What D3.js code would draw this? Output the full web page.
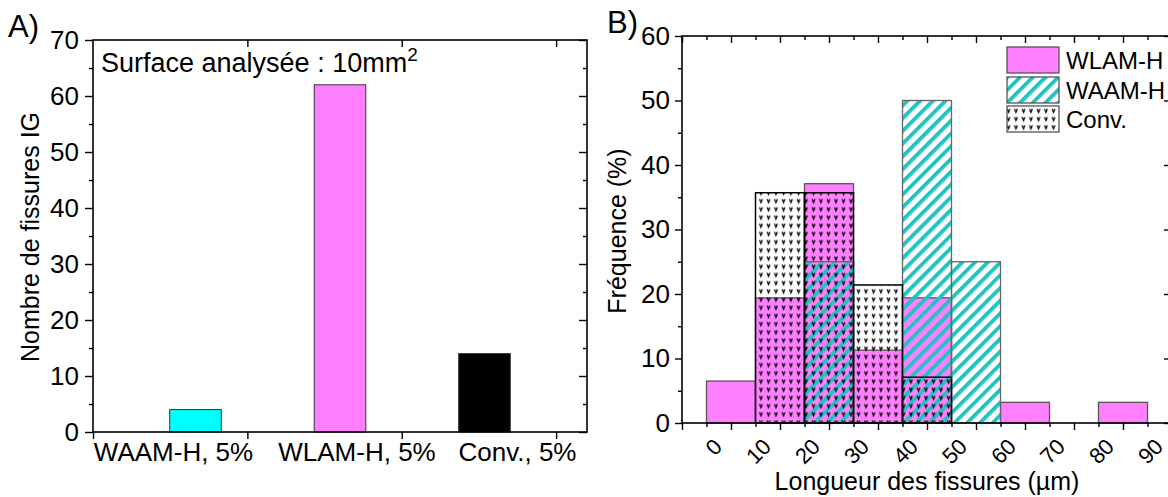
<!DOCTYPE html>
<html><head><meta charset="utf-8">
<script src="https://cdn.jsdelivr.net/npm/d3@7"></script>
<style>
body{margin:0;background:#fff}
svg{display:block}
text{font-family:"Liberation Sans",Arial,Helvetica,sans-serif;fill:#000}
</style>
</head><body>
<svg id="chart" width="1168" height="497"></svg>
<script>
// ---------- Panel A data ----------
const samplesA = ["WAAM-H, 5%", "WLAM-H, 5%", "Conv., 5%"];
const crackCounts = [4, 62, 14];
const colorsA = ["#00FFFF", "#FF80FF", "#000000"];
const yTicksA = [0, 10, 20, 30, 40, 50, 60, 70];

// ---------- Panel B data ----------
const binStarts = [0, 10, 20, 30, 40, 50, 60, 70, 80];
const binWidth = 10;
const freqWLAM = [6.5, 19.4, 37.1, 11.3, 19.4, 0, 3.2, 0, 3.2];
const freqWAAM = [0, 0, 25, 0, 50, 25, 0, 0, 0];
const freqConv = [0, 35.7, 35.7, 21.4, 7.1, 0, 0, 0, 0];
const xTickLabelsB = [0, 10, 20, 30, 40, 50, 60, 70, 80, 90];
const yTicksB = [0, 10, 20, 30, 40, 50, 60];
const seriesB = ["WLAM-H", "WAAM-H", "Conv."];

// ---------- layout ----------
const svg = d3.select("#chart");
const FONT = 25;
const TICKFONT = 26;
const defs = svg.append("defs");

// hatch pattern (WAAM-H)
const hatch = defs.append("pattern").attr("id", "hatch")
  .attr("patternUnits", "userSpaceOnUse").attr("width", 9).attr("height", 9)
  .attr("patternTransform", "rotate(-45)");
hatch.append("rect").attr("x", 0).attr("y", 0).attr("width", 9).attr("height", 3.8).attr("fill", "#1EC3C3");

// v pattern (Conv.)
const vpat = defs.append("pattern").attr("id", "vpat")
  .attr("patternUnits", "userSpaceOnUse").attr("width", 7.5).attr("height", 8.2);
vpat.append("path").attr("d", "M2.1,2.2 L3.5,5.8 L4.9,2.2").attr("fill", "none")
  .attr("stroke", "#000").attr("stroke-width", 1.25);

// ================= PANEL A =================
const A = {x0: 93, x1: 587, y0: 432, y1: 40};
const xA = d3.scaleBand().domain(samplesA).range([A.x0, A.x1])
  .paddingInner(0.643).paddingOuter(0.531);
const yA = d3.scaleLinear().domain([0, 70]).range([A.y0, A.y1]);
const xTickA = d3.scaleLinear().domain([0, 3.2]).range([A.x0, A.x1]);
const labelShiftA = [-22, 17, 33];

const gA = svg.append("g");
gA.selectAll("rect.bar").data(samplesA).join("rect")
  .attr("class", "bar")
  .attr("x", d => xA(d)).attr("width", xA.bandwidth())
  .attr("y", (d, i) => yA(crackCounts[i]))
  .attr("height", (d, i) => yA(0) - yA(crackCounts[i]))
  .attr("fill", (d, i) => colorsA[i])
  .attr("stroke", "#333").attr("stroke-width", 1);

function styleAxis(g) {
  g.select(".domain").remove();
  g.selectAll(".tick line").attr("stroke", "#000").attr("stroke-width", 1.4);
  g.selectAll(".tick text").style("font-size", TICKFONT + "px")
    .style("font-family", '"Liberation Sans",Arial,sans-serif').attr("fill", "#000");
}
// left y axis
gA.append("g").attr("transform", `translate(${A.x0},0)`)
  .call(d3.axisLeft(yA).tickValues(d3.range(5, 70, 10)).tickSize(4).tickFormat(""))
  .call(styleAxis);
gA.append("g").attr("transform", `translate(${A.x0},0)`)
  .call(d3.axisLeft(yA).tickValues(yTicksA).tickSize(8).tickPadding(6))
  .call(styleAxis);
// right y axis (inward)
gA.append("g").attr("transform", `translate(${A.x1},0)`)
  .call(d3.axisLeft(yA).tickValues(d3.range(5, 70, 10)).tickSize(4).tickFormat(""))
  .call(styleAxis);
gA.append("g").attr("transform", `translate(${A.x1},0)`)
  .call(d3.axisLeft(yA).tickValues(yTicksA).tickSize(8).tickFormat(""))
  .call(styleAxis);
// bottom ticks
gA.append("g").attr("transform", `translate(0,${A.y0})`)
  .call(d3.axisBottom(xTickA).tickValues([0, 1, 2, 3]).tickSize(7).tickFormat(""))
  .call(styleAxis);
gA.append("g").attr("transform", `translate(0,${A.y1})`)
  .call(d3.axisBottom(xTickA).tickValues([1, 2, 3]).tickSize(7).tickFormat(""))
  .call(styleAxis);
// frame
gA.append("rect").attr("x", A.x0).attr("y", A.y1).attr("width", A.x1 - A.x0).attr("height", A.y0 - A.y1)
  .attr("fill", "none").attr("stroke", "#000").attr("stroke-width", 1.6);
// category labels
gA.selectAll("text.cat").data(samplesA).join("text")
  .attr("class", "cat")
  .attr("x", (d, i) => xA(d) + xA.bandwidth() / 2 + labelShiftA[i])
  .attr("y", 461).attr("text-anchor", "middle").style("font-size", "26px")
  .text(d => d);
// y title
svg.append("text").attr("transform", "translate(39,237) rotate(-90)")
  .attr("text-anchor", "middle").style("font-size", FONT + "px").text("Nombre de fissures IG");
// annotation
const ann = svg.append("text").attr("x", 101).attr("y", 71.5).style("font-size", "27px");
ann.append("tspan").text("Surface analysée : 10mm");
ann.append("tspan").attr("dy", -11).style("font-size", "19px").text("2");
// panel letter
svg.append("text").attr("x", 8).attr("y", 37).style("font-size", "31px").text("A)");

// ================= PANEL B =================
const B = {x0: 682, x1: 1172, y0: 423, y1: 36};
const xB = d3.scaleLinear().domain([-5, 95]).range([B.x0, B.x1]);
const yB = d3.scaleLinear().domain([0, 60]).range([B.y0, B.y1]);
const gB = svg.append("g");

function drawSeries(vals, fill, stroke, sw) {
  const data = binStarts.map((s, i) => ({s, v: vals[i]})).filter(d => d.v > 0);
  gB.append("g").selectAll("rect").data(data).join("rect")
    .attr("x", d => xB(d.s))
    .attr("width", xB(binWidth) - xB(0))
    .attr("y", d => yB(d.v)).attr("height", d => yB(0) - yB(d.v))
    .attr("fill", fill).attr("stroke", stroke).attr("stroke-width", sw);
}
drawSeries(freqWLAM, "#FF80FF", "#555", 1.3);
drawSeries(freqWAAM, "url(#hatch)", "#666", 1.3);
drawSeries(freqConv, "url(#vpat)", "#000", 1.5);

const majorB = d3.range(-5, 96, 10);
const minorB = d3.range(0, 91, 10);
// bottom axis
gB.append("g").attr("transform", `translate(0,${B.y0})`)
  .call(d3.axisBottom(xB).tickValues(majorB).tickSize(7).tickFormat("")).call(styleAxis);
gB.append("g").attr("transform", `translate(0,${B.y0})`)
  .call(d3.axisBottom(xB).tickValues(minorB).tickSize(4).tickFormat("")).call(styleAxis);
// top axis (inward)
gB.append("g").attr("transform", `translate(0,${B.y1})`)
  .call(d3.axisBottom(xB).tickValues(majorB).tickSize(7).tickFormat("")).call(styleAxis);
gB.append("g").attr("transform", `translate(0,${B.y1})`)
  .call(d3.axisBottom(xB).tickValues(minorB).tickSize(4).tickFormat("")).call(styleAxis);
// left axis
gB.append("g").attr("transform", `translate(${B.x0},0)`)
  .call(d3.axisLeft(yB).tickValues(d3.range(5, 60, 10)).tickSize(4).tickFormat("")).call(styleAxis);
gB.append("g").attr("transform", `translate(${B.x0},0)`)
  .call(d3.axisLeft(yB).tickValues(yTicksB).tickSize(7).tickPadding(5)).call(styleAxis);
// right axis (inward)
gB.append("g").attr("transform", `translate(${B.x1},0)`)
  .call(d3.axisRight(yB).tickValues(d3.range(5, 60, 10)).tickSize(-4).tickFormat("")).call(styleAxis);
gB.append("g").attr("transform", `translate(${B.x1},0)`)
  .call(d3.axisRight(yB).tickValues(yTicksB).tickSize(-8).tickFormat("")).call(styleAxis);
// frame
gB.append("rect").attr("x", B.x0).attr("y", B.y1).attr("width", B.x1 - B.x0).attr("height", B.y0 - B.y1)
  .attr("fill", "none").attr("stroke", "#000").attr("stroke-width", 1.6);
// rotated x tick labels
gB.selectAll("text.xl").data(xTickLabelsB).join("text")
  .attr("class", "xl")
  .attr("transform", d => `translate(${xB(d) + 17},448) rotate(-45)`)
  .attr("text-anchor", "end").style("font-size", "22px")
  .text(d => d);
// titles
svg.append("text").attr("x", 927).attr("y", 489.5).attr("text-anchor", "middle")
  .style("font-size", FONT + "px").text("Longueur des fissures (µm)");
svg.append("text").attr("transform", "translate(626,231) rotate(-90)")
  .attr("text-anchor", "middle").style("font-size", FONT + "px").text("Fréquence (%)");
svg.append("text").attr("x", 607).attr("y", 33).style("font-size", "31px").text("B)");

// legend
const legFills = ["#FF80FF", "url(#hatch)", "url(#vpat)"];
const legRowY = [47, 77, 106];
const leg = svg.append("g");
leg.selectAll("rect").data(seriesB).join("rect")
  .attr("x", 1007).attr("y", (d, i) => legRowY[i]).attr("width", 52).attr("height", 26)
  .attr("fill", (d, i) => legFills[i]).attr("stroke", "#555").attr("stroke-width", 1.3);
leg.selectAll("text").data(seriesB).join("text")
  .attr("x", 1066).attr("y", (d, i) => legRowY[i] + 21.5)
  .style("font-size", "24px").text(d => d);
</script>
</body></html>
